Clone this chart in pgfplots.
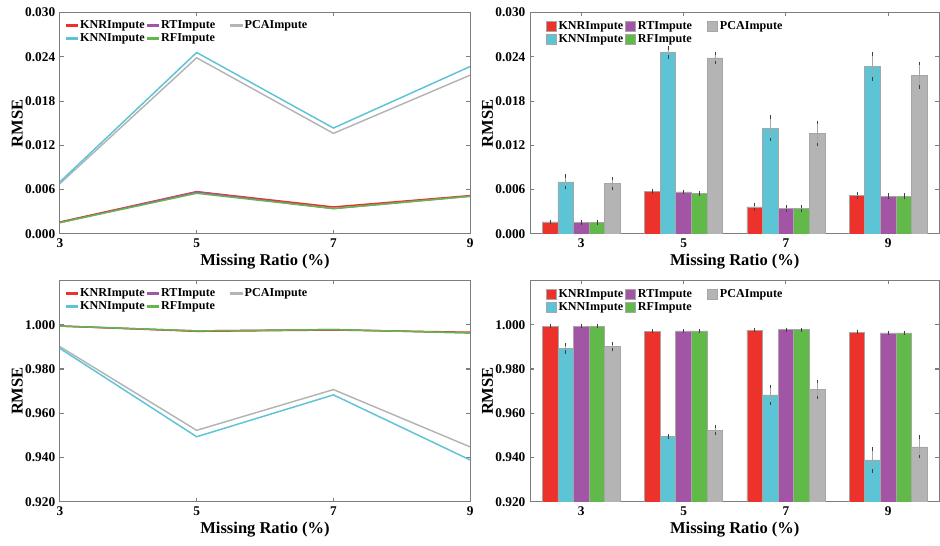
\documentclass[border=0pt]{standalone}
\usepackage{pgfplots}
\pgfplotsset{compat=1.18}
\usepackage{fontspec}
\setmainfont{Liberation Serif}
\definecolor{cKNR}{RGB}{236,50,42}
\definecolor{cKNN}{RGB}{92,196,213}
\definecolor{cRT}{RGB}{163,85,165}
\definecolor{cRF}{RGB}{96,185,72}
\definecolor{cPCA}{RGB}{180,180,180}
\definecolor{axgray}{RGB}{125,125,125}
\newcommand{\wRT}{\makebox[50.5pt][l]{RTImpute}}
\pgfplotsset{
  base/.style={
    scale only axis, height=166.35pt,
    axis line style={axgray, line width=0.9pt},
    every tick/.style={axgray, line width=0.8pt},
    major tick length=3pt,
    /pgf/number format/assume math mode=true,
    tick label style={font=\fontsize{10}{12}\selectfont\bfseries},
    label style={font=\fontsize{12.4}{14}\selectfont\bfseries},
    yticklabel style={/pgf/number format/.cd, fixed, fixed zerofill, precision=3},
    scaled y ticks=false,
    xlabel={Missing Ratio (\%)}, ylabel={RMSE},
    xlabel style={yshift=2pt}, ylabel style={yshift=-5pt},
    legend columns=3,
    legend cell align=left,
    legend style={draw=none, fill=none, font=\fontsize{9.1}{10}\selectfont\bfseries,
      anchor=north west, column sep=0.5pt, row sep=0pt, inner sep=0pt,
      nodes={inner sep=1.1pt}},
  },
  lineax/.style={base, width=308.25pt, xmin=3, xmax=9, xtick={3,5,7,9},
    legend style={at={(0.014,0.972)}}},
  barax/.style={base, width=307.5pt, xmin=-0.5, xmax=3.5, xtick={0,1,2,3},
    xticklabels={3,5,7,9}, legend style={at={(0.038,0.968)}}},
  ln/.style={line width=1.1pt, color=#1,
    legend image code/.code={\fill[fill=#1] (0pt,-0.65pt) rectangle (8pt,0.65pt);}},
  br/.style={ybar, fill=#1, draw=black!35, line width=0.4pt, bar width=11.76pt, bar shift=0pt,
    error bars/.cd, y dir=both, y explicit,
    error bar style={line width=0.3pt, black!35},
    error mark options={black!75, line width=0.5pt, mark size=1.2pt},
    /pgfplots/.cd,
    legend image code/.code={\fill[fill=#1] (0pt,-3.75pt) rectangle (7.5pt,3.75pt);}},
}
\begin{document}
\begin{tikzpicture}
\path (0pt,0pt) rectangle (705pt,409.5pt);
% ---------------- top-left
\begin{axis}[lineax, at={(45pt,233.775pt)}, anchor=south west,
  ymin=0, ymax=0.030, ytick={0,0.006,0.012,0.018,0.024,0.030}]
\addplot[ln=cKNR] coordinates {(3,0.00162) (5,0.00573) (7,0.00365) (9,0.00519)};
\addlegendentry{KNRImpute}
\addplot[ln=cRT] coordinates {(3,0.00153) (5,0.00568) (7,0.00343) (9,0.0051)};
\addlegendentry{\wRT}
\addplot[ln=cPCA] coordinates {(3,0.00681) (5,0.02386) (7,0.01362) (9,0.02151)};
\addlegendentry{PCAImpute}
\addplot[ln=cKNN] coordinates {(3,0.00704) (5,0.02458) (7,0.01434) (9,0.02268)};
\addlegendentry{KNNImpute}
\addplot[ln=cRF] coordinates {(3,0.00153) (5,0.0055) (7,0.00343) (9,0.0051)};
\addlegendentry{RFImpute}
\end{axis}
% ---------------- top-right (bars: KNR -0.306, KNN -0.153, RT 0, RF +0.153, PCA +0.306)
\begin{axis}[barax, at={(398.25pt,233.775pt)}, anchor=south west,
  ymin=0, ymax=0.030, ytick={0,0.006,0.012,0.018,0.024,0.030}]
\addplot[br=cKNR] coordinates {(-0.306,0.00162) +- (0,0.0001) (0.694,0.00573) +- (0,0.0001) (1.694,0.00365) +- (0,0.0003) (2.694,0.00519) +- (0,0.0003)};
\addlegendentry{KNRImpute}
\addplot[br=cRT] coordinates {(0,0.00153) +- (0,0.0001) (1,0.00568) +- (0,0.0001) (2,0.00343) +- (0,0.0003) (3,0.0051) +- (0,0.0002)};
\addlegendentry{\wRT}
\addplot[br=cPCA] coordinates {(0.306,0.00681) +- (0,0.0007) (1.306,0.02386) +- (0,0.0006) (2.306,0.01362) +- (0,0.0015) (3.306,0.02151) +- (0,0.0016)};
\addlegendentry{PCAImpute}
\addplot[br=cKNN] coordinates {(-0.153,0.00704) +- (0,0.0008) (0.847,0.02458) +- (0,0.0006) (1.847,0.01434) +- (0,0.0015) (2.847,0.02268) +- (0,0.0017)};
\addlegendentry{KNNImpute}
\addplot[br=cRF] coordinates {(0.153,0.00153) +- (0,0.0001) (1.153,0.0055) +- (0,0.0001) (2.153,0.00343) +- (0,0.0003) (3.153,0.0051) +- (0,0.0002)};
\addlegendentry{RFImpute}
\end{axis}
% ---------------- bottom-left
\begin{axis}[lineax, at={(45pt,32.475pt)}, anchor=south west,
  ymin=0.92, ymax=1.02, ytick={0.92,0.94,0.96,0.98,1.00}]
\addplot[ln=cKNR] coordinates {(3,0.9994) (5,0.9970) (7,0.9976) (9,0.9966)};
\addlegendentry{KNRImpute}
\addplot[ln=cRT] coordinates {(3,0.9994) (5,0.9972) (7,0.9978) (9,0.9963)};
\addlegendentry{\wRT}
\addplot[ln=cPCA] coordinates {(3,0.9901) (5,0.9523) (7,0.9707) (9,0.9448)};
\addlegendentry{PCAImpute}
\addplot[ln=cKNN] coordinates {(3,0.9893) (5,0.9494) (7,0.9683) (9,0.9389)};
\addlegendentry{KNNImpute}
\addplot[ln=cRF] coordinates {(3,0.9994) (5,0.9972) (7,0.9978) (9,0.9963)};
\addlegendentry{RFImpute}
\end{axis}
% ---------------- bottom-right
\begin{axis}[barax, at={(398.25pt,32.475pt)}, anchor=south west,
  ymin=0.92, ymax=1.02, ytick={0.92,0.94,0.96,0.98,1.00}]
\addplot[br=cKNR] coordinates {(-0.306,0.9994) +- (0,0.0002) (0.694,0.9970) +- (0,0.0002) (1.694,0.9976) +- (0,0.0002) (2.694,0.9966) +- (0,0.0003)};
\addlegendentry{KNRImpute}
\addplot[br=cRT] coordinates {(0,0.9994) +- (0,0.0002) (1,0.9972) +- (0,0.0001) (2,0.9978) +- (0,0.0002) (3,0.9963) +- (0,0.0002)};
\addlegendentry{\wRT}
\addplot[br=cPCA] coordinates {(0.306,0.9901) +- (0,0.0014) (1.306,0.9523) +- (0,0.0016) (2.306,0.9707) +- (0,0.0035) (3.306,0.9448) +- (0,0.0045)};
\addlegendentry{PCAImpute}
\addplot[br=cKNN] coordinates {(-0.153,0.9893) +- (0,0.0016) (0.847,0.9494) +- (0,0.0004) (1.847,0.9683) +- (0,0.0038) (2.847,0.9389) +- (0,0.005)};
\addlegendentry{KNNImpute}
\addplot[br=cRF] coordinates {(0.153,0.9994) +- (0,0.0002) (1.153,0.9972) +- (0,0.0001) (2.153,0.9978) +- (0,0.0002) (3.153,0.9963) +- (0,0.0002)};
\addlegendentry{RFImpute}
\end{axis}
\end{tikzpicture}
\end{document}
